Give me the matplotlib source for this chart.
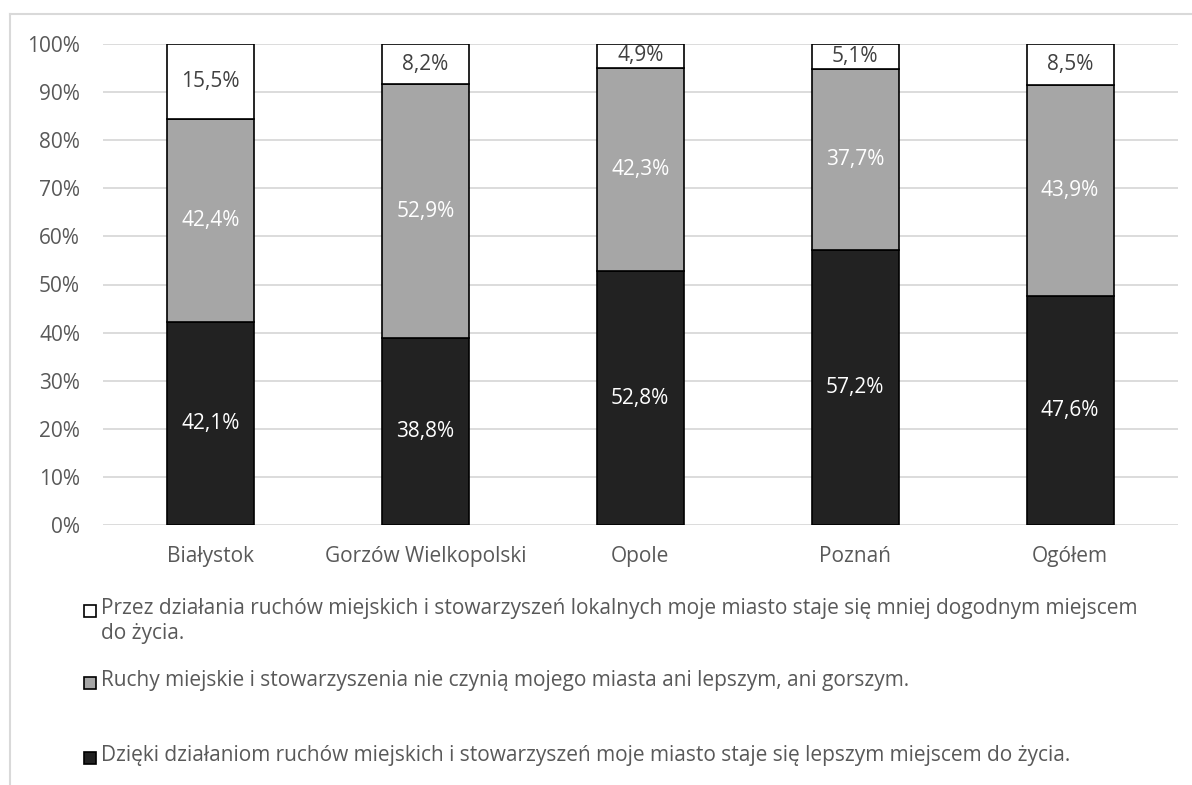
import matplotlib
matplotlib.use("Agg")
import matplotlib.pyplot as plt
from matplotlib.patches import Rectangle
from matplotlib.lines import Line2D
import numpy as np

plt.rcParams['font.family'] = ['Open Sans', 'DejaVu Sans']

categories = ["Białystok", "Gorzów Wielkopolski", "Opole", "Poznań", "Ogółem"]
better = [42.1, 38.8, 52.8, 57.2, 47.6]
neutral = [42.4, 52.9, 42.3, 37.7, 43.9]
worse = [15.5, 8.2, 4.9, 5.1, 8.5]
yticks = [0, 10, 20, 30, 40, 50, 60, 70, 80, 90, 100]
legend_labels = [
    "Przez działania ruchów miejskich i stowarzyszeń lokalnych moje miasto staje się mniej dogodnym miejscem\ndo życia.",
    "Ruchy miejskie i stowarzyszenia nie czynią mojego miasta ani lepszym, ani gorszym.",
    "Dzięki działaniom ruchów miejskich i stowarzyszeń moje miasto staje się lepszym miejscem do życia.",
]

DARK = "#222222"
GRAY = "#a6a6a6"
WHITE = "#ffffff"
TXT = "#595959"
W, H = 1192, 785

fig = plt.figure(figsize=(W / 100, H / 100), dpi=100)
ax = fig.add_axes([103 / W, 1 - 525 / H, (1177.5 - 103) / W, (525 - 44) / H])

x = np.arange(len(categories))
w = 0.405
b1 = ax.bar(x, better, w, color=DARK, edgecolor="black", linewidth=1.2, zorder=3)
b2 = ax.bar(x, neutral, w, bottom=better, color=GRAY, edgecolor="black", linewidth=1.2, zorder=3)
bot3 = np.array(better) + np.array(neutral)
b3 = ax.bar(x, worse, w, bottom=bot3, color=WHITE, edgecolor="black", linewidth=1.2, zorder=3)

fs = 15
def fmt(v):
    return f"{v:.1f}%".replace(".", ",")
for bars, vals, col in [(b1, better, "white"), (b2, neutral, "white"), (b3, worse, "#404040")]:
    for r, v in zip(bars, vals):
        ax.text(r.get_x() + r.get_width() / 2, r.get_y() + r.get_height() / 2, fmt(v),
                ha="center", va="center", color=col, fontsize=fs, zorder=4)

ax.set_xlim(-0.5, len(categories) - 0.5)
ax.set_ylim(0, 100)
ax.set_yticks(yticks)
ax.set_yticklabels([f"{t}%" for t in yticks], fontsize=fs, color=TXT)
ax.set_xticks(x)
ax.set_xticklabels(categories, fontsize=fs, color=TXT)
ax.tick_params(axis="both", length=0)
ax.tick_params(axis="y", pad=16.5)
ax.tick_params(axis="x", pad=15)
ax.grid(axis="y", color="#d9d9d9", linewidth=1.3, zorder=0)
for s in ax.spines.values():
    s.set_visible(False)

# figure border (top and left)
fig.add_artist(Line2D([10 / W, 10 / W], [0, 1 - 14 / H], transform=fig.transFigure,
                      color="#d9d9d9", linewidth=1.5))
fig.add_artist(Line2D([10 / W, 1], [1 - 14 / H, 1 - 14 / H], transform=fig.transFigure,
                      color="#d9d9d9", linewidth=1.5))

# legend
colors = [WHITE, GRAY, DARK]
ys = [611, 683, 758]
for lab, c, yy in zip(legend_labels, colors, ys):
    fig.add_artist(Rectangle((84 / W, 1 - (yy + 6) / H), 12 / W, 12 / H,
                             transform=fig.transFigure, facecolor=c, edgecolor="black", linewidth=1.2))
    fig.text(101 / W, 1 - (yy - 13) / H, lab, fontsize=fs, color=TXT, va="top", ha="left",
             linespacing=1.25)

fig.savefig("out.png", dpi=100, facecolor="white")
